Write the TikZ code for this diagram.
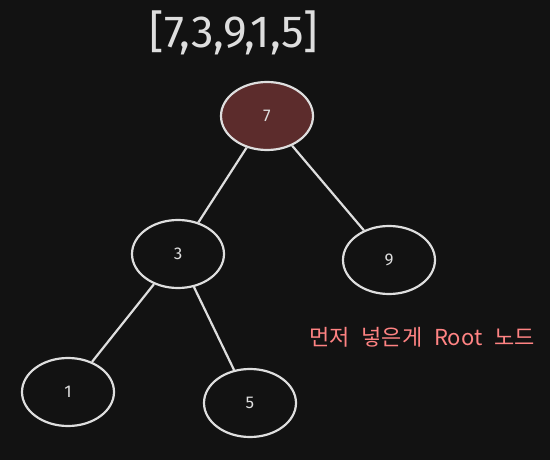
\documentclass[tikz,border=0pt]{standalone}
\usepackage{fontspec}
\setmainfont{Fira Sans}
\newfontfamily\krfont{Noto Sans CJK KR}
\usetikzlibrary{shapes.geometric}
\definecolor{bg}{RGB}{18,18,18}
\definecolor{ink}{RGB}{222,222,222}
\definecolor{rootfill}{RGB}{92,44,44}
\definecolor{note}{RGB}{255,131,131}
\tikzset{
  treenode/.style={ellipse, draw=ink, line width=2.2pt, minimum width=92pt, minimum height=68pt, inner sep=0pt, text=ink, font=\fontsize{17}{17}\selectfont},
  edge/.style={draw=ink, line width=2.2pt}
}
\begin{document}
\begin{tikzpicture}[x=1pt,y=-1pt]
\fill[bg] (0,0) rectangle (550,460);
\useasboundingbox (0,0) rectangle (550,460);
\node[text=ink, font=\fontsize{45}{45}\selectfont] (title) at (234,33) {[7,3,9,1,5]};
\node[treenode, fill=rootfill] (n7) at (267,116) {7};
\node[treenode] (n3) at (178,254) {3};
\node[treenode] (n9) at (389,260) {9};
\node[treenode] (n1) at (68,392) {1};
\node[treenode] (n5) at (250,403) {5};
\draw[edge] (n7) -- (n3);
\draw[edge] (n7) -- (n9);
\draw[edge] (n3) -- (n1);
\draw[edge] (n3) -- (n5);
\node[text=note, font=\krfont\fontsize{22}{22}\selectfont] (note) at (422,337) {먼저\hspace{7pt} 넣은게\hspace{7pt} Root\hspace{7pt} 노드};
\end{tikzpicture}
\end{document}
